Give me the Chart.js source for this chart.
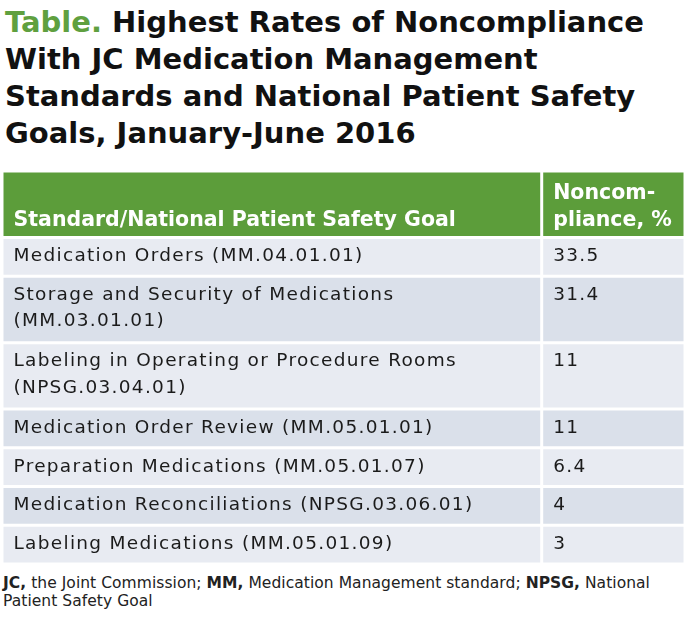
<!DOCTYPE html>
<html>
<head>
<meta charset="utf-8">
<script src="https://cdn.jsdelivr.net/npm/chart.js@4.4.1/dist/chart.umd.min.js"></script>
<style>
  body { margin: 0; width: 700px; height: 640px; background: #fff; position: relative; overflow: hidden; font-family: "DejaVu Sans", sans-serif; }
  #title { position: absolute; left: 5px; top: 4px; margin: 0; font-size: 29px; line-height: 37px; font-weight: 700; color: #111; }
  #title span { color: #5fa03f; }
  #box { position: absolute; left: 2px; top: 171px; width: 683px; height: 393px; }
  #note { position: absolute; left: 3px; top: 573.5px; font-size: 15.5px; line-height: 18.5px; color: #222; letter-spacing: 0.05px; }
</style>
</head>
<body>
<h1 id="title"><span>Table.</span> Highest Rates of Noncompliance<br>With JC Medication Management<br>Standards and National Patient Safety<br>Goals, January-June 2016</h1>
<div id="box"><canvas id="tbl" width="683" height="393"></canvas></div>
<div id="note"><b>JC,</b> the Joint Commission; <b>MM,</b> Medication Management standard; <b>NPSG,</b> National<br>Patient Safety Goal</div>
<script>
// table content
const headerLabel = ['', 'Standard/National Patient Safety Goal'];
const headerValue = ['Noncom-', 'pliance, %'];
const standards = [
    ['Medication Orders (MM.04.01.01)'],
    ['Storage and Security of Medications', '(MM.03.01.01)'],
    ['Labeling in Operating or Procedure Rooms', '(NPSG.03.04.01)'],
    ['Medication Order Review (MM.05.01.01)'],
    ['Preparation Medications (MM.05.01.07)'],
    ['Medication Reconciliations (NPSG.03.06.01)'],
    ['Labeling Medications (MM.05.01.09)']
];
const noncompliance = [33.5, 31.4, 11, 11, 6.4, 4, 3];

// row layout (y units = canvas px), column split in % of width
const ROW_PAD = 11;
const LINE_H = 27.7;
const SPLIT = 79.02;

const col1Text = [headerLabel].concat(standards);
const col2Text = [headerValue].concat(noncompliance.map(v => [String(v)]));
const rowLines = col1Text.map((t, i) => Math.max(t.length, col2Text[i].length));

const rowStart = [];
let total = 0;
rowLines.forEach(n => { rowStart.push(total); total += ROW_PAD + LINE_H * n; });

const fills = rowLines.map((n, i) => i === 0 ? '#5c9d3a' : (i % 2 ? '#e8ebf2' : '#dae0ea'));

function cells(xc) {
    return rowLines.map((n, i) => ({ x: xc, y: [rowStart[i], rowStart[i] + ROW_PAD + LINE_H * n] }));
}

// writes the cell texts on top of the bars
const cellText = {
    id: 'cellText',
    afterDatasetsDraw(chart) {
        const ctx = chart.ctx;
        chart.data.datasets.forEach((ds, di) => {
            chart.getDatasetMeta(di).data.forEach((bar, i) => {
                const p = bar.getProps(['x', 'y', 'base', 'width'], true);
                const left = p.x - p.width / 2;
                const top = Math.min(p.y, p.base);
                const head = i === 0;
                ctx.save();
                ctx.fillStyle = head ? '#ffffff' : '#1b1b1b';
                ctx.font = head ? 'bold 20.5px "DejaVu Sans"' : '18.5px "DejaVu Sans"';
                ctx.letterSpacing = head ? '0px' : '1.3px';
                ctx.textBaseline = 'alphabetic';
                ds.texts[i].forEach((line, k) => {
                    ctx.fillText(line, left + 11.5, top + (head ? 27.7 : 23.7) + k * (head ? 26.8 : 26.5));
                });
                ctx.restore();
            });
        });
    }
};

const common = {
    backgroundColor: fills,
    borderColor: '#ffffff',
    borderWidth: 1.5,
    borderSkipped: false,
    inflateAmount: 0,
    categoryPercentage: 1
};

new Chart(document.getElementById('tbl'), {
    type: 'bar',
    data: {
        datasets: [
            Object.assign({ data: cells(SPLIT / 2), barPercentage: SPLIT / 50, texts: col1Text }, common),
            Object.assign({ data: cells((SPLIT + 100) / 2), barPercentage: (100 - SPLIT) / 50, texts: col2Text }, common)
        ]
    },
    options: {
        responsive: false,
        animation: false,
        layout: { padding: 0 },
        plugins: { legend: { display: false }, tooltip: { enabled: false } },
        scales: {
            x: { type: 'linear', min: 0, max: 100, offset: false, stacked: true, display: false, ticks: { stepSize: 100 } },
            y: { type: 'linear', min: 0, max: total, reverse: true, stacked: false, display: false }
        }
    },
    plugins: [cellText]
});
</script>
</body>
</html>
